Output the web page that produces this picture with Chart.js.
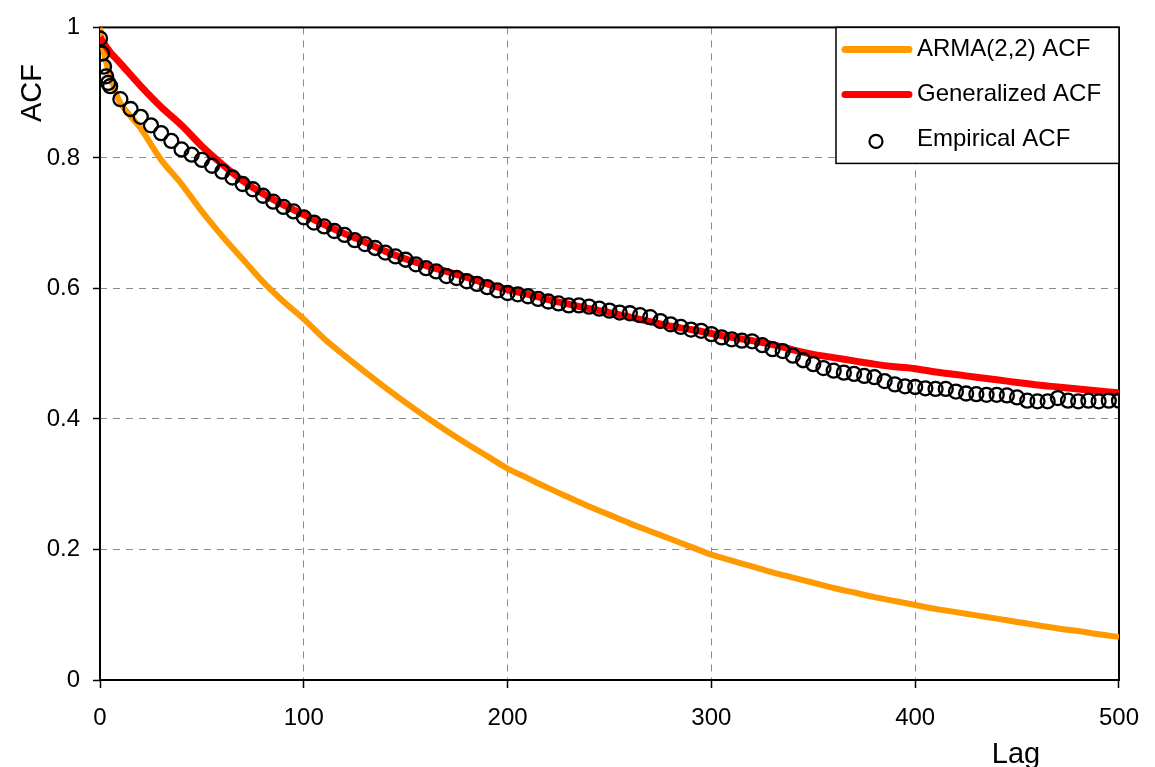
<!DOCTYPE html>
<html>
<head>
<meta charset="utf-8">
<title>ACF comparison</title>
<script src="https://cdn.jsdelivr.net/npm/chart.js@4/dist/chart.umd.min.js"></script>
<style>
  html, body { margin: 0; padding: 0; background: #fff; }
  #wrap { width: 1155px; height: 767px; position: relative; }
</style>
</head>
<body>
<div id="wrap"><canvas id="chart"></canvas></div>
<script>
// Data
const lineLags = [0, 2, 5, 10, 20, 30, 40, 50, 60, 70, 80, 90, 100, 110, 120, 130, 140, 150, 160, 170, 180, 190,
  200, 210, 220, 230, 240, 250, 260, 270, 280, 290, 300, 310, 320, 330, 340, 350, 360, 370, 380, 390,
  400, 410, 420, 430, 440, 450, 460, 470, 480, 490, 500];

const armaAcf = [1.0, 0.96, 0.925, 0.884, 0.845, 0.797, 0.76, 0.718, 0.68, 0.645, 0.61, 0.58, 0.553, 0.523, 0.497,
  0.472, 0.448, 0.425, 0.403, 0.382, 0.362, 0.343, 0.324, 0.309, 0.294, 0.28, 0.266, 0.253, 0.24, 0.228,
  0.216, 0.204, 0.192, 0.183, 0.174, 0.165, 0.157, 0.149, 0.141, 0.134, 0.127, 0.121, 0.115, 0.109,
  0.104, 0.099, 0.094, 0.089, 0.084, 0.079, 0.075, 0.07, 0.066];

const generalizedAcf = [0.985, 0.975, 0.962, 0.945, 0.91, 0.878, 0.85, 0.818, 0.79, 0.765, 0.745, 0.728, 0.713,
  0.698, 0.684, 0.671, 0.657, 0.645, 0.635, 0.626, 0.617, 0.607, 0.598, 0.591, 0.583, 0.576, 0.569, 0.563,
  0.556, 0.549, 0.542, 0.537, 0.531, 0.525, 0.52, 0.514, 0.506, 0.499, 0.494, 0.489, 0.484, 0.48, 0.477,
  0.472, 0.468, 0.464, 0.46, 0.456, 0.452, 0.449, 0.446, 0.443, 0.44];

const empLags = [0, 1, 2, 3, 4, 5, 10, 15, 20, 25, 30, 35, 40, 45, 50, 55, 60, 65, 70, 75, 80, 85, 90, 95, 100,
  105, 110, 115, 120, 125, 130, 135, 140, 145, 150, 155, 160, 165, 170, 175, 180, 185, 190, 195, 200,
  205, 210, 215, 220, 225, 230, 235, 240, 245, 250, 255, 260, 265, 270, 275, 280, 285, 290, 295, 300,
  305, 310, 315, 320, 325, 330, 335, 340, 345, 350, 355, 360, 365, 370, 375, 380, 385, 390, 395, 400,
  405, 410, 415, 420, 425, 430, 435, 440, 445, 450, 455, 460, 465, 470, 475, 480, 485, 490, 495, 500];

const empiricalAcf = [0.983, 0.96, 0.94, 0.925, 0.915, 0.91, 0.89, 0.875, 0.863, 0.85, 0.838, 0.826, 0.813,
  0.805, 0.797, 0.788, 0.779, 0.77, 0.76, 0.752, 0.742, 0.733, 0.725, 0.718, 0.709, 0.701, 0.695, 0.688,
  0.682, 0.674, 0.668, 0.662, 0.655, 0.649, 0.644, 0.637, 0.631, 0.626, 0.619, 0.616, 0.611, 0.607,
  0.602, 0.597, 0.593, 0.591, 0.588, 0.584, 0.58, 0.577, 0.574, 0.574, 0.572, 0.569, 0.566, 0.563,
  0.562, 0.559, 0.556, 0.55, 0.545, 0.541, 0.537, 0.535, 0.53, 0.525, 0.522, 0.52, 0.519, 0.513, 0.507,
  0.504, 0.497, 0.49, 0.484, 0.478, 0.474, 0.471, 0.469, 0.466, 0.464, 0.458, 0.453, 0.45, 0.449, 0.447,
  0.446, 0.446, 0.442, 0.439, 0.438, 0.437, 0.437, 0.436, 0.433, 0.428, 0.427, 0.427, 0.432, 0.428,
  0.427, 0.428, 0.427, 0.428, 0.428];

const xTicks = [0, 100, 200, 300, 400, 500];
const yTicks = [0, 0.2, 0.4, 0.6, 0.8, 1];

const FONT = '"Liberation Sans", Arial, sans-serif';
const pts = (xs, ys) => xs.map((x, i) => ({x, y: ys[i]}));

// Black frame around the plot area (under the data)
const framePlugin = {
  id: 'frame',
  beforeDatasetsDraw(chart){
    const {ctx, chartArea: a} = chart;
    ctx.save();
    ctx.strokeStyle = '#000';
    ctx.lineWidth = 2;
    ctx.strokeRect(a.left, a.top, a.right - a.left, a.bottom - a.top);
    ctx.restore();
  }
};

// Axis titles placed like the original
const titlesPlugin = {
  id: 'titles',
  afterDraw(chart){
    const {ctx, chartArea: a} = chart;
    ctx.save();
    ctx.fillStyle = '#000';
    ctx.font = '29px ' + FONT;
    ctx.textAlign = 'center';
    ctx.textBaseline = 'alphabetic';
    ctx.fillText('Lag', a.right - 103, 763);
    ctx.translate(41, 93);
    ctx.rotate(-Math.PI / 2);
    ctx.fillText('ACF', 0, 0);
    ctx.restore();
  }
};

// Boxed legend in the top-right corner
const legendPlugin = {
  id: 'boxLegend',
  afterDraw(chart){
    const {ctx, chartArea: a} = chart;
    const w = 283, h = 136;
    const left = a.right - w, top = a.top;
    ctx.save();
    ctx.fillStyle = '#fff';
    ctx.fillRect(left, top, w, h);
    ctx.strokeStyle = '#000';
    ctx.lineWidth = 1.5;
    ctx.strokeRect(left, top, w, h);
    const items = chart.data.datasets.slice().sort((p, q) => p.legendIndex - q.legendIndex);
    ctx.font = '24px ' + FONT;
    ctx.textBaseline = 'middle';
    items.forEach((ds, i) => {
      const cy = top + 22 + i * 45;
      if(ds.showLine === false){
        ctx.beginPath();
        ctx.arc(left + 40, cy + 2, 6.5, 0, Math.PI * 2);
        ctx.strokeStyle = ds.borderColor;
        ctx.lineWidth = 2.2;
        ctx.stroke();
      } else {
        ctx.beginPath();
        ctx.moveTo(left + 9, cy);
        ctx.lineTo(left + 73, cy);
        ctx.strokeStyle = ds.borderColor;
        ctx.lineWidth = 7;
        ctx.lineCap = 'round';
        ctx.stroke();
      }
      ctx.fillStyle = '#000';
      ctx.fillText(ds.label, left + 81, cy);
    });
    ctx.restore();
  }
};

const tickStyle = {color: '#000', font: {family: FONT, size: 24}};

new Chart(document.getElementById('chart'), {
  type: 'scatter',
  data: {
    datasets: [
      {
        label: 'Empirical ACF', legendIndex: 2, order: 0,
        data: pts(empLags, empiricalAcf),
        showLine: false,
        pointRadius: 7, pointBorderWidth: 2.3,
        borderColor: '#000', backgroundColor: 'rgba(0,0,0,0)',
      },
      {
        label: 'Generalized ACF', legendIndex: 1, order: 1,
        data: pts(lineLags, generalizedAcf),
        showLine: true, pointRadius: 0,
        borderColor: '#ff0000', borderWidth: 7, tension: 0.3,
      },
      {
        label: 'ARMA(2,2) ACF', legendIndex: 0, order: 2,
        data: pts(lineLags, armaAcf),
        showLine: true, pointRadius: 0,
        borderColor: '#ff9900', borderWidth: 6, tension: 0.3,
      },
    ]
  },
  options: {
    responsive: true, maintainAspectRatio: false, animation: false,
    layout: {padding: {top: 22, right: 33, left: 0, bottom: 0}},
    plugins: {legend: {display: false}, tooltip: {enabled: false}},
    scales: {
      x: {
        type: 'linear', min: 0, max: 500,
        afterBuildTicks: s => { s.ticks = xTicks.map(v => ({value: v})); },
        afterFit: s => { s.height = 87; },
        ticks: {...tickStyle, padding: 16, maxRotation: 0},
        grid: {color: '#8c8c8c', lineWidth: 1, tickColor: '#000', tickLength: 8, tickWidth: 1.5},
        border: {display: false, dash: [7, 6]},
      },
      y: {
        min: 0, max: 1,
        afterBuildTicks: s => { s.ticks = yTicks.map(v => ({value: v})); },
        afterFit: s => { s.width = 100; },
        ticks: {...tickStyle, padding: 13, callback: v => String(Math.round(v * 10) / 10)},
        grid: {color: '#8c8c8c', lineWidth: 1, tickColor: '#000', tickLength: 7, tickWidth: 1.5},
        border: {display: false, dash: [7, 6]},
      }
    }
  },
  plugins: [framePlugin, titlesPlugin, legendPlugin]
});
</script>
</body>
</html>
